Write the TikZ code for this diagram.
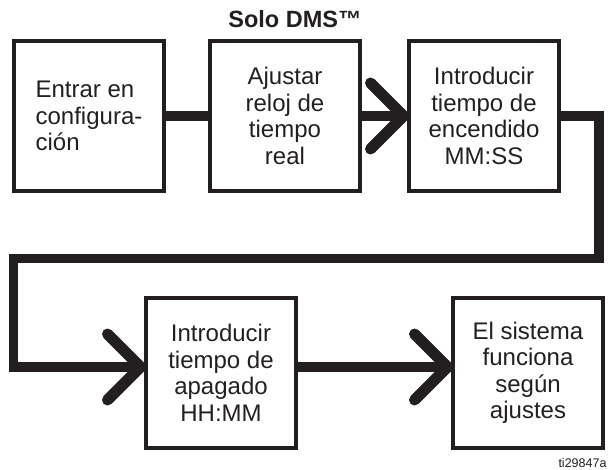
\documentclass[tikz,border=0pt]{standalone}
\usepackage{fontspec}
\setmainfont{Liberation Sans}
\definecolor{ink}{HTML}{231F20}
\tikzset{
  stepbox/.style={draw=ink, line width=4pt, minimum width=150pt, minimum height=150pt,
    inner sep=0pt, align=center, text=ink, font=\fontsize{24}{26.5}\selectfont},
  conn/.style={draw=ink, line width=9.5pt, line join=miter},
  barb/.style={draw=ink, line width=11pt, line cap=round, line join=round},
}
\begin{document}
\begin{tikzpicture}
\useasboundingbox (0pt,0pt) rectangle (612pt,-470pt);
\node[font=\bfseries\fontsize{23.5}{26}\selectfont, text=ink, anchor=base] (title) at (295pt,-28pt) {Solo DMS™};
\node[stepbox, align=left] (b1) at (89pt,-116pt) {Entrar en\\configura-\\ción};
\node[stepbox] (b2) at (285pt,-116pt) {Ajustar\\reloj de\\tiempo\\real};
\node[stepbox] (b3) at (484pt,-116pt) {Introducir\\tiempo de\\encendido\\MM:SS};
\node[stepbox] (b4) at (221pt,-373pt) {Introducir\\tiempo de\\apagado\\HH:MM};
\node[stepbox] (b5) at (528pt,-373pt) {El sistema\\funciona\\según\\ajustes};
\node[font=\fontsize{12.5}{14}\selectfont, text=ink, anchor=base east] (ref) at (610pt,-467pt) {ti29847a};
% tips and corners
\coordinate (t3) at ([xshift=-3.5pt]b3.west);
\coordinate (t4) at ([xshift=-3.5pt,yshift=6pt]b4.west);
\coordinate (t5) at ([xshift=-3.5pt,yshift=6pt]b5.west);
\coordinate (k1) at (599pt,-116pt);
\coordinate (k2) at (599pt,-258.5pt);
\coordinate (k3) at (13.5pt,-258.5pt);
\coordinate (k4) at (13.5pt,-367pt);
% connectors
\draw[conn] (b1.east) -- (b2.west);
\draw[conn] (b2.east) -- (t3);
\draw[conn] (b3.east) -- (k1) -- (k2) -- (k3) -- (k4) -- (t4);
\draw[conn] ([yshift=6pt]b4.east) -- (t5);
% arrowheads
\draw[barb] ([xshift=-33pt,yshift=33pt]t3) -- (t3) -- ([xshift=-33pt,yshift=-33pt]t3);
\draw[barb] ([xshift=-33pt,yshift=33pt]t4) -- (t4) -- ([xshift=-33pt,yshift=-33pt]t4);
\draw[barb] ([xshift=-33pt,yshift=33pt]t5) -- (t5) -- ([xshift=-33pt,yshift=-33pt]t5);
\end{tikzpicture}
\end{document}
